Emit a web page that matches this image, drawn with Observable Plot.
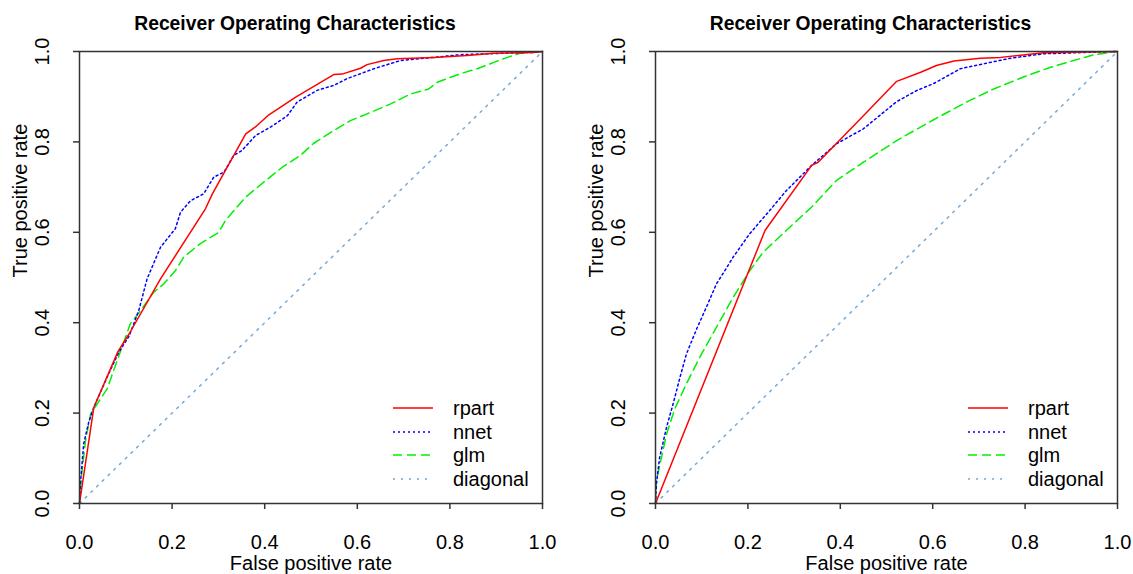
<!DOCTYPE html>
<html>
<head>
<meta charset="utf-8">
<script src="https://cdn.jsdelivr.net/npm/d3@7"></script>
<script src="https://cdn.jsdelivr.net/npm/@observablehq/plot@0.6"></script>
<style>
  body { margin: 0; background: #fff; font-family: "Liberation Sans", Arial, sans-serif; }
  #wrap { position: relative; width: 1133px; height: 574px; display: flex; overflow: hidden; }
  .panel { position: relative; }
  .legend { position: absolute; pointer-events: none; }
</style>
</head>
<body>
<div id="wrap"></div>
<script>
// ---------- data ----------
const titleText = "Receiver Operating Characteristics";
const xLabel = "False positive rate";
const yLabel = "True positive rate";
const tickValues = [0, 0.2, 0.4, 0.6, 0.8, 1.0];

const seriesNames = ["rpart", "nnet", "glm", "diagonal"];
const seriesColors = ["#ff0000", "#0000ff", "#00f000", "#74a9d8"];
const seriesDash = ["none", "2,3", "9,5", "2,6"];

const diagFpr = [0, 1];
const diagTpr = [0, 1];

// left panel
const leftRpartFpr = [0, 0.031, 0.083, 0.107, 0.175, 0.272, 0.287, 0.359, 0.380, 0.409, 0.467, 0.549, 0.567, 0.607, 0.621, 0.657, 0.686, 0.765, 0.837, 0.895, 0.98, 1];
const leftRpartTpr = [0, 0.213, 0.336, 0.375, 0.497, 0.652, 0.685, 0.818, 0.833, 0.860, 0.899, 0.949, 0.950, 0.963, 0.971, 0.980, 0.984, 0.987, 0.991, 0.996, 0.998, 1];

const leftNnetFpr = [0, 0.002, 0.009, 0.02, 0.031, 0.063, 0.085, 0.107, 0.128, 0.146, 0.175, 0.207, 0.218, 0.240, 0.268, 0.29, 0.312, 0.333, 0.351, 0.380, 0.413, 0.449, 0.470, 0.513, 0.549, 0.578, 0.607, 0.636, 0.693, 0.765, 0.823, 0.909, 0.98, 1];
const leftNnetTpr = [0, 0.044, 0.132, 0.18, 0.213, 0.287, 0.335, 0.37, 0.427, 0.497, 0.567, 0.608, 0.644, 0.670, 0.685, 0.722, 0.733, 0.770, 0.781, 0.814, 0.833, 0.858, 0.888, 0.914, 0.925, 0.940, 0.951, 0.962, 0.980, 0.987, 0.993, 0.996, 0.998, 1];

const leftGlmFpr = [0, 0.004, 0.013, 0.024, 0.038, 0.06, 0.085, 0.11, 0.132, 0.16, 0.182, 0.207, 0.225, 0.261, 0.301, 0.315, 0.359, 0.398, 0.438, 0.477, 0.506, 0.549, 0.585, 0.621, 0.672, 0.715, 0.754, 0.773, 0.823, 0.859, 0.895, 0.924, 0.952, 1];
const leftGlmTpr = [0, 0.058, 0.139, 0.198, 0.22, 0.254, 0.327, 0.398, 0.427, 0.467, 0.486, 0.515, 0.545, 0.575, 0.600, 0.626, 0.678, 0.711, 0.744, 0.770, 0.797, 0.825, 0.847, 0.862, 0.884, 0.906, 0.917, 0.932, 0.951, 0.962, 0.976, 0.987, 0.996, 1];

// right panel
const rightRpartFpr = [0, 0.237, 0.338, 0.352, 0.45, 0.522, 0.574, 0.608, 0.646, 0.703, 0.747, 0.84, 1];
const rightRpartTpr = [0, 0.604, 0.748, 0.755, 0.858, 0.934, 0.954, 0.969, 0.979, 0.985, 0.987, 0.997, 1];

const rightNnetFpr = [0, 0.002, 0.009, 0.024, 0.038, 0.053, 0.067, 0.089, 0.110, 0.132, 0.150, 0.168, 0.204, 0.247, 0.283, 0.338, 0.392, 0.45, 0.522, 0.566, 0.602, 0.660, 0.711, 0.768, 0.84, 0.934, 1];
const rightNnetTpr = [0, 0.044, 0.102, 0.169, 0.22, 0.279, 0.331, 0.386, 0.434, 0.486, 0.515, 0.545, 0.597, 0.648, 0.692, 0.748, 0.796, 0.829, 0.889, 0.914, 0.929, 0.962, 0.973, 0.985, 0.995, 0.998, 1];

const rightGlmFpr = [0, 0.002, 0.013, 0.024, 0.042, 0.067, 0.096, 0.132, 0.168, 0.204, 0.233, 0.283, 0.338, 0.392, 0.45, 0.522, 0.602, 0.675, 0.732, 0.805, 0.855, 0.905, 0.949, 1];
const rightGlmTpr = [0, 0.051, 0.102, 0.154, 0.21, 0.265, 0.324, 0.39, 0.456, 0.515, 0.556, 0.604, 0.656, 0.715, 0.755, 0.803, 0.849, 0.889, 0.917, 0.947, 0.965, 0.980, 0.993, 1];

// ---------- helpers ----------
const toPts = (xs, ys) => xs.map((x, i) => ({x, y: ys[i]}));
const font = "Liberation Sans, Arial, sans-serif";

function panel(series, layout) {
  const {width, height, mL, mR, mT, mB} = layout;
  const lineMarks = series.map((s, i) =>
    Plot.line(s, {x: "x", y: "y", stroke: seriesColors[i], strokeWidth: 1.5,
      strokeDasharray: seriesDash[i] === "none" ? undefined : seriesDash[i]})
  );
  const chart = Plot.plot({
    width, height,
    marginLeft: mL, marginRight: mR, marginTop: mT, marginBottom: mB,
    style: {fontFamily: font, background: "white", overflow: "visible"},
    x: {domain: [0, 1], axis: null},
    y: {domain: [0, 1], axis: null},
    marks: [
      lineMarks[3], lineMarks[2], lineMarks[1], lineMarks[0],
      Plot.frame({stroke: "#333", strokeWidth: 1.5}),
      Plot.axisX({ticks: tickValues, tickSize: 6, tickFormat: () => "", label: null, stroke: "#333", strokeWidth: 1.5}),
      Plot.axisY({ticks: tickValues, tickSize: 6, tickFormat: () => "", label: null, stroke: "#333", strokeWidth: 1.5}),
      Plot.text(tickValues, {x: d => d, text: d => d.toFixed(1), frameAnchor: "bottom", dy: 39, lineAnchor: "middle", fontSize: 20, fill: "#000"}),
      Plot.text(tickValues, {y: d => d, text: d => d.toFixed(1), frameAnchor: "left", dx: -37, rotate: -90, lineAnchor: "middle", textAnchor: "middle", fontSize: 20, fill: "#000"}),
      Plot.text([xLabel], {frameAnchor: "bottom", dy: 60, lineAnchor: "middle", fontSize: 20, fill: "#000"}),
      Plot.text([yLabel], {frameAnchor: "left", dx: -59, rotate: -90, lineAnchor: "middle", fontSize: 20, fill: "#000"}),
      Plot.text([titleText], {frameAnchor: "top", dx: -16, dy: -28, lineAnchor: "middle", fontSize: 19.3, fontWeight: "bold", fill: "#000"})
    ]
  });
  const div = document.createElement("div");
  div.className = "panel";
  div.style.width = width + "px";
  div.style.height = height + "px";
  div.appendChild(chart);

  // legend (no box, like R bty="n")
  const plotRight = width - mR, plotBottom = height - mB;
  const leg = d3.create("svg").attr("class", "legend")
    .attr("width", width).attr("height", height)
    .style("left", "0px").style("top", "0px");
  const rowOffsets = [-95, -71, -48, -24];
  seriesNames.forEach((name, i) => {
    const yy = plotBottom + rowOffsets[i];
    leg.append("line")
      .attr("x1", plotRight - 149).attr("x2", plotRight - 109)
      .attr("y1", yy).attr("y2", yy)
      .attr("stroke", seriesColors[i]).attr("stroke-width", 1.5)
      .attr("stroke-dasharray", seriesDash[i] === "none" ? null : seriesDash[i]);
    leg.append("text")
      .attr("x", plotRight - 89).attr("y", yy).attr("dy", "0.35em")
      .attr("font-size", 20).attr("font-family", font).attr("fill", "#000")
      .text(name);
  });
  div.appendChild(leg.node());
  return div;
}

const wrap = document.getElementById("wrap");
wrap.appendChild(panel(
  [toPts(leftRpartFpr, leftRpartTpr), toPts(leftNnetFpr, leftNnetTpr), toPts(leftGlmFpr, leftGlmTpr), toPts(diagFpr, diagTpr)],
  {width: 566, height: 574, mL: 79, mR: 24, mT: 51, mB: 71}
));
wrap.appendChild(panel(
  [toPts(rightRpartFpr, rightRpartTpr), toPts(rightNnetFpr, rightNnetTpr), toPts(rightGlmFpr, rightGlmTpr), toPts(diagFpr, diagTpr)],
  {width: 567, height: 574, mL: 89, mR: 16, mT: 51, mB: 71}
));
</script>
</body>
</html>
